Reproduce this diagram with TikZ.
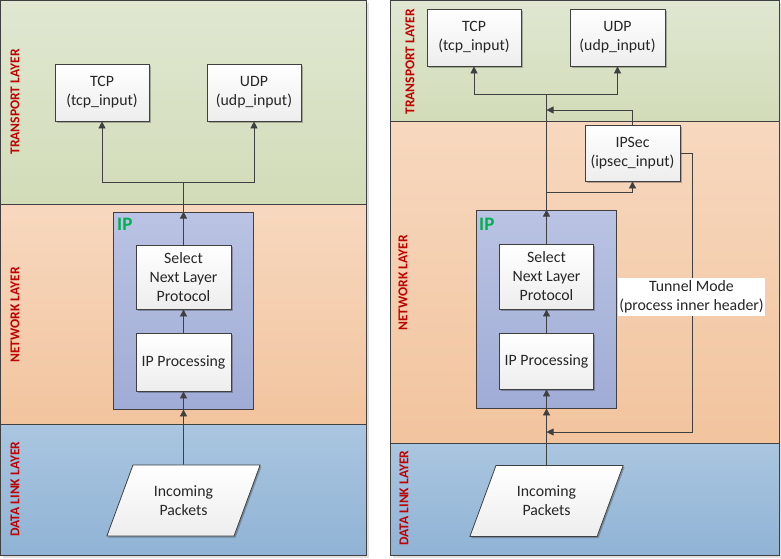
\documentclass[tikz,border=0pt]{standalone}
\usepackage{fontspec}
\setmainfont{Carlito}
\usetikzlibrary{shapes.geometric,arrows.meta,shadows}
\definecolor{trT}{HTML}{E0E7D2}
\definecolor{trB}{HTML}{D2DCB8}
\definecolor{nwT}{HTML}{F7D8BF}
\definecolor{nwB}{HTML}{F2C49E}
\definecolor{dlT}{HTML}{AAC6E0}
\definecolor{dlB}{HTML}{90B3D5}
\definecolor{ipT}{HTML}{BAC3E3}
\definecolor{ipB}{HTML}{A0ACD6}
\definecolor{lbl}{HTML}{C00000}
\definecolor{ipg}{HTML}{00B050}
\definecolor{ln}{HTML}{404040}
\begin{document}
\begin{tikzpicture}[x=1pt,y=-1pt,
 box/.style={draw=ln, line width=0.8pt, top color=white, bottom color=black!7,
   drop shadow={shadow xshift=1.5pt,shadow yshift=-1.5pt,opacity=0.25,fill=black},
   align=center, inner sep=0pt, font=\fontsize{15.8}{19}\selectfont, text=black!85},
 ipbox/.style={draw=ln, line width=0.8pt, top color=ipT, bottom color=ipB, inner sep=0pt},
 packets/.style={box, trapezium, trapezium left angle=63, trapezium right angle=117,
   trapezium stretches=true, minimum width=154pt, minimum height=71pt},
 layer/.style={rotate=90, text=lbl, font=\fontsize{13.5}{15}\selectfont\bfseries, inner sep=0pt},
 iplabel/.style={text=ipg, font=\fontsize{19}{22}\selectfont\bfseries, inner sep=0pt},
 conn/.style={draw=ln, line width=0.8pt, -{Triangle[width=7pt,length=7pt]}},
 wire/.style={draw=ln, line width=0.8pt},
 panel/.style={draw=ln, line width=0.8pt},
 tunnel/.style={fill=white, align=center, inner sep=1pt, font=\fontsize{15.8}{19}\selectfont, text=black!85, minimum width=147pt, minimum height=38pt},
]
\useasboundingbox (0,0) rectangle (781,558);
% ---------- left panel ----------
\fill[black!12] (3,3) rectangle (369,558);
\shade[top color=trT,bottom color=trB] (0,0) rectangle (366,204);
\shade[top color=nwT,bottom color=nwB] (0,204) rectangle (366,424);
\shade[top color=dlT,bottom color=dlB] (0,424) rectangle (366,555);
\draw[panel] (0,0) rectangle (366,555);
\draw[panel] (0,204) -- (366,204);
\draw[panel] (0,424) -- (366,424);
\node[layer] (trL) at (15,102) {TRANSPORT LAYER};
\node[layer] (nwL) at (15,315) {NETWORK LAYER};
\node[layer] (dlL) at (15,489) {DATA LINK LAYER};

\node[box, minimum width=94pt, minimum height=57pt] (tcpL) at (102,92.5) {TCP\\(tcp\_input)};
\node[box, minimum width=94pt, minimum height=57pt] (udpL) at (254,92.5) {UDP\\(udp\_input)};
\node[ipbox, minimum width=140pt, minimum height=197pt] (ipL) at (183.5,310.5) {};
\node[iplabel, anchor=north west] (ipLl) at (117,218) {IP};
\node[box, minimum width=95pt, minimum height=64pt] (selL) at (183.5,277) {Select\\Next Layer\\Protocol};
\node[box, minimum width=95pt, minimum height=58pt] (procL) at (183.5,362) {IP Processing};
\node[packets] (inL) at (183.5,500.5) {Incoming\\Packets};
\coordinate (brL) at (183.5,182);

\draw[conn] (inL) -- (ipL.south);
\draw[conn] (ipL.south) -- (procL.south);
\draw[conn] (procL.north) -- (selL.south);
\draw[conn] (selL.north) -- (ipL.north);
\draw[wire] (ipL.north) -- (brL);
\draw[conn] (brL) -| (tcpL.south);
\draw[conn] (brL) -| (udpL.south);

% ---------- right panel ----------
\fill[black!12] (393,3) rectangle (781,558);
\shade[top color=trT,bottom color=trB] (390,0) rectangle (779,121);
\shade[top color=nwT,bottom color=nwB] (390,121) rectangle (779,443);
\shade[top color=dlT,bottom color=dlB] (390,443) rectangle (779,555);
\draw[panel] (390,0) rectangle (779,555);
\draw[panel] (390,121) -- (779,121);
\draw[panel] (390,443) -- (779,443);
\node[layer] (trR) at (410,62) {TRANSPORT LAYER};
\node[layer] (nwR) at (403,283) {NETWORK LAYER};
\node[layer] (dlR) at (404,498) {DATA LINK LAYER};

\node[box, minimum width=94pt, minimum height=57pt] (tcpR) at (474,37.5) {TCP\\(tcp\_input)};
\node[box, minimum width=95pt, minimum height=57pt] (udpR) at (617.5,37.5) {UDP\\(udp\_input)};
\node[box, minimum width=95pt, minimum height=56pt] (ipsec) at (632.5,153) {IPSec\\(ipsec\_input)};
\node[ipbox, minimum width=140pt, minimum height=198pt] (ipR) at (546.5,309) {};
\node[iplabel, anchor=north west] (ipRl) at (479,218) {IP};
\node[box, minimum width=94pt, minimum height=65pt] (selR) at (546.5,276.5) {Select\\Next Layer\\Protocol};
\node[box, minimum width=94pt, minimum height=56pt] (procR) at (546.5,361) {IP Processing};
\node[packets] (inR) at (546.5,501) {Incoming\\Packets};

\coordinate (brR) at (546.5,94);
\coordinate (retR) at (546.5,110);
\coordinate (toIPsec) at (546.5,192);
\coordinate (tunBot) at (692,432);
\coordinate (tunIn) at (546.5,432);

\draw[conn] (inR) -- (ipR.south);
\draw[conn] (ipR.south) -- (procR.south);
\draw[conn] (procR.north) -- (selR.south);
\draw[conn] (selR.north) -- (ipR.north);
\draw[wire] (ipR.north) -- (brR);
\draw[conn] (brR) -| (tcpR.south);
\draw[conn] (brR) -| (udpR.south);
\draw[conn] (toIPsec) -| (ipsec.south);
\draw[conn] (ipsec.north) |- (retR);
\draw[conn] (ipsec.east) -| (tunBot) -- (tunIn);
\node[tunnel] (tunlbl) at (691.5,297) {Tunnel Mode\\(process inner header)};
\end{tikzpicture}
\end{document}
